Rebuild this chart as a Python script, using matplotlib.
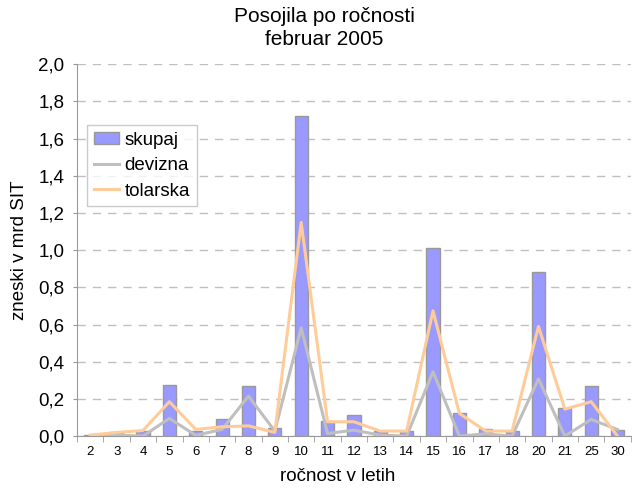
import numpy as np
import matplotlib
matplotlib.use("Agg")
import matplotlib.pyplot as plt

plt.rcParams["font.family"] = ["Liberation Sans", "DejaVu Sans"]

# ---- data (mrd SIT) -------------------------------------------------------
categories = ["2", "3", "4", "5", "6", "7", "8", "9", "10", "11", "12", "13",
              "14", "15", "16", "17", "18", "20", "21", "25", "30"]
skupaj = [0.005, 0.022, 0.027, 0.276, 0.03, 0.09, 0.267, 0.043, 1.724, 0.082,
          0.113, 0.027, 0.027, 1.01, 0.122, 0.036, 0.027, 0.885, 0.15, 0.267,
          0.034]
devizna = [0.0, 0.005, 0.0, 0.095, 0.004, 0.036, 0.215, 0.027, 0.582, 0.014,
           0.032, 0.005, 0.0, 0.346, 0.0, 0.012, 0.0, 0.308, 0.0, 0.09, 0.035]
tolarska = [0.005, 0.02, 0.03, 0.185, 0.036, 0.05, 0.055, 0.02, 1.149, 0.077,
            0.077, 0.027, 0.027, 0.674, 0.122, 0.027, 0.027, 0.59, 0.145,
            0.185, 0.0]
yticks = [0.0, 0.2, 0.4, 0.6, 0.8, 1.0, 1.2, 1.4, 1.6, 1.8, 2.0]

x = np.arange(len(categories))

fig = plt.figure(figsize=(6.32, 4.9), dpi=100)
ax = fig.add_axes([0.122, 0.110, 0.876, 0.759])

bars = ax.bar(x, skupaj, width=0.5, color="#9999FF", edgecolor="#999999",
              linewidth=1, label="skupaj", zorder=2)
l_dev, = ax.plot(x, devizna, color="#BFBFBF", lw=2.2, label="devizna",
                 zorder=3)
l_tol, = ax.plot(x, tolarska, color="#FFCC99", lw=2.2, label="tolarska",
                 zorder=4)

ax.set_xlim(-0.5, len(categories) - 0.5)
ax.set_ylim(0, 2.0)
ax.set_yticks(yticks)
ax.set_yticklabels([f"{v:.1f}".replace(".", ",") for v in yticks],
                   fontsize=13.5)
ax.set_xticks(x)
ax.set_xticklabels(categories, fontsize=9.5)
ax.set_xticks(np.arange(len(categories) + 1) - 0.5, minor=True)
ax.tick_params(axis="x", which="major", length=0, pad=7)
ax.tick_params(axis="x", which="minor", length=4, color="#999999")
ax.tick_params(axis="y", length=3, color="#999999", pad=6)

ax.yaxis.grid(True, ls=(0, (6, 5)), color="#C0C0C0", lw=1)
ax.set_axisbelow(True)
for s in ["top", "right"]:
    ax.spines[s].set_visible(False)
for s in ["left", "bottom"]:
    ax.spines[s].set_color("#999999")

ax.set_xlabel("ročnost v letih", fontsize=13.5)
ax.xaxis.set_label_coords(0.47, -0.085)
ax.set_ylabel("zneski v mrd SIT", fontsize=13.5)
ax.yaxis.set_label_coords(-0.088, 0.5)
fig.text(0.513, 0.985, "Posojila po ročnosti\nfebruar 2005", fontsize=15,
         ha="center", va="top", linespacing=1.25)

leg = ax.legend([bars, l_dev, l_tol], ["skupaj", "devizna", "tolarska"],
                loc="upper left", bbox_to_anchor=(0.018, 0.836),
                fontsize=13.5, frameon=True, fancybox=False, borderpad=0.35,
                handlelength=1.35, handleheight=0.6, handletextpad=0.3,
                labelspacing=0.45, borderaxespad=0)
leg.get_frame().set_edgecolor("#BFBFBF")
leg.get_frame().set_linewidth(1)

fig.savefig("out.png", dpi=100)
